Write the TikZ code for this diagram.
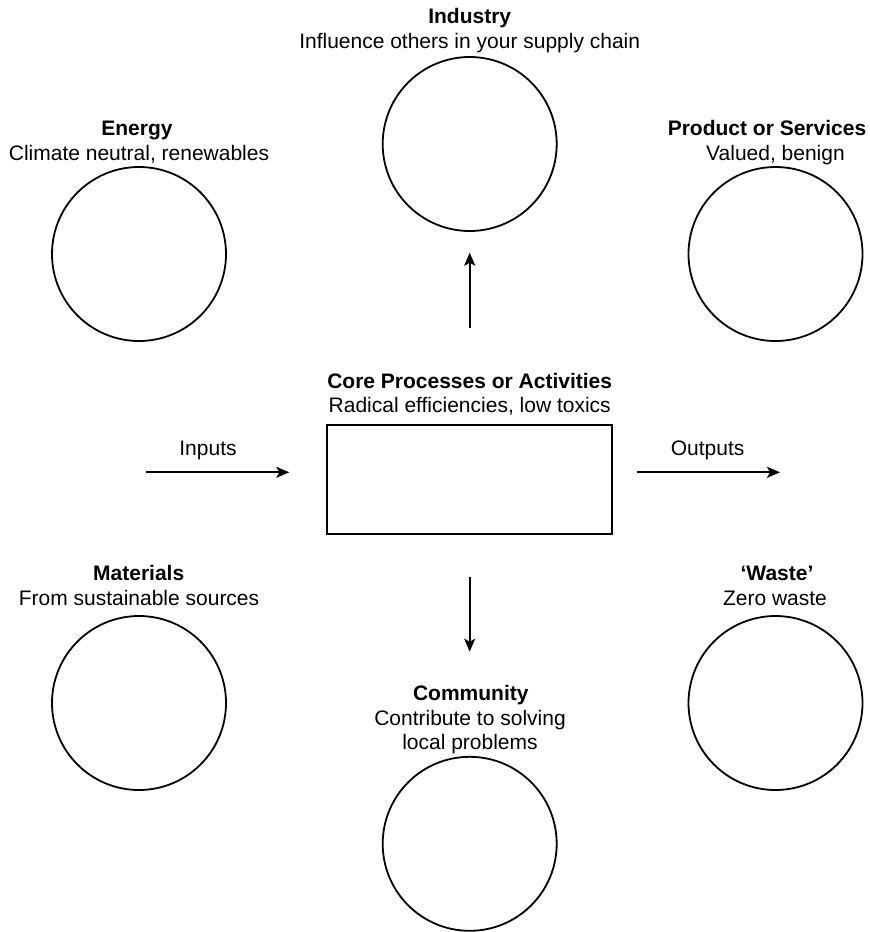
\documentclass[tikz,border=0pt]{standalone}
\usepackage{fontspec}
\setmainfont{Liberation Sans}
\usetikzlibrary{arrows.meta}
\begin{document}
\begin{tikzpicture}[x=1pt,y=-1pt,
  circ/.style={draw, line width=1.8pt, circle, minimum size=174pt, inner sep=0pt},
  corebox/.style={draw, line width=1.8pt, minimum width=285pt, minimum height=109pt, inner sep=0pt},
  txt/.style={font=\fontsize{21}{25}\selectfont, inner sep=0pt, anchor=base},
  ttl/.style={font=\fontsize{21}{25}\selectfont\bfseries, inner sep=0pt, anchor=base},
  arr/.style={line width=1.7pt, -{Stealth[length=13pt,width=11pt,inset=3pt]}}]
\useasboundingbox (0,0) rectangle (870,932);
% circles
\node[circ] (ind) at (469.7,144) {};
\node[circ] (ene) at (139,254) {};
\node[circ] (prod) at (775.5,254) {};
\node[circ] (mat) at (139,703) {};
\node[circ] (was) at (775.5,703) {};
\node[circ] (com) at (469.7,843.8) {};
% core box
\node[corebox] (core) at (469.7,479.5) {};
% labels
\node[ttl] (indT) at (469.7,23.3) {Industry};
\node[txt] (indS) at (469.7,48.3) {Influence others in your supply chain};
\node[ttl] (eneT) at (137,135) {Energy};
\node[txt] (eneS) at (139,160) {Climate neutral, renewables};
\node[ttl] (prodT) at (767,135) {Product or Services};
\node[txt] (prodS) at (775.5,160) {Valued, benign};
\node[ttl] (coreT) at (469.7,388) {Core Processes or Activities};
\node[txt] (coreS) at (469.7,412.5) {Radical efficiencies, low toxics};
\node[txt] (inL) at (208,455) {Inputs};
\node[txt] (outL) at (707.6,455) {Outputs};
\node[ttl] (matT) at (138.7,580.7) {Materials};
\node[txt] (matS) at (139,605) {From sustainable sources};
\node[ttl] (wasT) at (777,580.7) {‘Waste’};
\node[txt] (wasS) at (775,605) {Zero waste};
\node[ttl] (comT) at (470.8,700) {Community};
\node[txt] (comS1) at (470,725) {Contribute to solving};
\node[txt] (comS2) at (470,749.3) {local problems};
% arrows
\coordinate (inA) at (146,472.3);
\coordinate (inB) at (289.3,472.3);
\coordinate (outA) at (636.5,472.3);
\coordinate (outB) at (780,472.3);
\coordinate (upA) at (469.7,328.3);
\coordinate (upB) at (469.7,252.7);
\coordinate (dnA) at (469.7,576.7);
\coordinate (dnB) at (469.7,651.7);
\draw[arr] (inA) -- (inB);
\draw[arr] (outA) -- (outB);
\draw[arr] (upA) -- (upB);
\draw[arr] (dnA) -- (dnB);
\end{tikzpicture}
\end{document}
